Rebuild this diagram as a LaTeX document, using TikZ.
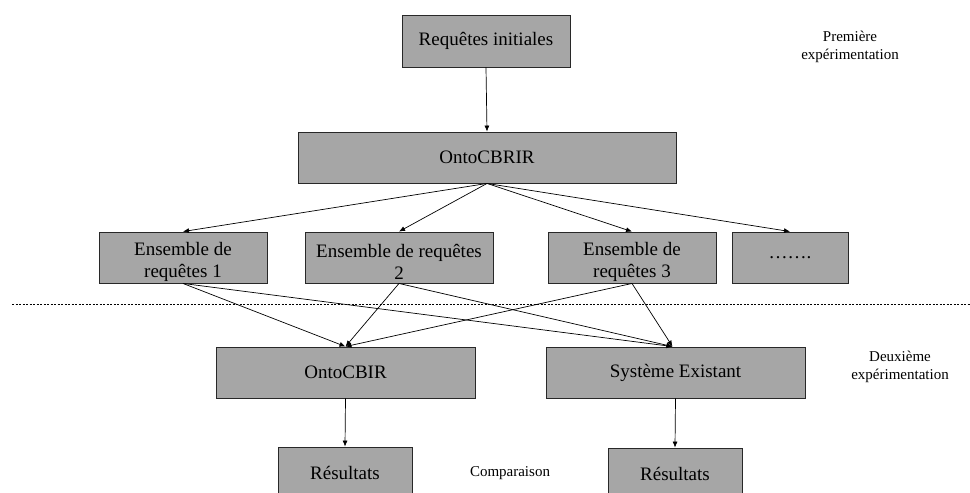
\documentclass[tikz,border=0pt]{standalone}
\usepackage{fontspec}
\setmainfont{Liberation Serif}
\usetikzlibrary{arrows.meta}
\definecolor{boxgray}{RGB}{166,166,166}
\definecolor{boxline}{RGB}{40,40,40}
% taller first line so two-line labels sit a little lower in their boxes
\newcommand{\lowstrut}{\rule{0pt}{22pt}}
\begin{document}
\begin{tikzpicture}[x=1pt,y=-1pt,
  stagebox/.style={draw=boxline,line width=0.9pt,fill=boxgray,inner sep=0pt,
    align=center,font=\fontsize{19}{22}\selectfont,minimum height=51pt},
  flow/.style={line width=0.7pt,-{Latex[length=6pt,width=5pt]}},
  note/.style={align=center,font=\fontsize{15}{18}\selectfont}]
\clip (0,0) rectangle (970,493);
\fill[white] (0,0) rectangle (970,493);

% first stage
\node[stagebox,minimum width=168pt,minimum height=52pt] (init) at (486,41) {Requêtes initiales};
\node[stagebox,minimum width=378pt] (onto1) at (487,157.5) {OntoCBRIR};
\node[stagebox,minimum width=168pt] (e1) at (183,257.5) {\lowstrut Ensemble de\\requêtes 1};
\node[stagebox,minimum width=188pt] (e2) at (399,257.5) {\lowstrut Ensemble de requêtes\\2};
\node[stagebox,minimum width=168pt] (e3) at (632,257.5) {\lowstrut Ensemble de\\requêtes 3};
\node[stagebox,minimum width=116pt] (e4) at (790,257.5) {…….};

% separator between the two experiments
\coordinate (sepL) at (12,304);
\coordinate (sepR) at (970,304);
\draw[line width=0.8pt,dash pattern=on 2pt off 1.5pt] (sepL) -- (sepR);

% second stage
\node[stagebox,minimum width=259pt] (onto2) at (345.5,372.5) {OntoCBIR};
\node[stagebox,minimum width=259pt] (sys) at (675.5,372.5) {Système Existant};
\node[stagebox,minimum width=134pt] (r1) at (345,472.5) {Résultats};
\node[stagebox,minimum width=134pt] (r2) at (675,473.5) {Résultats};

% labels
\node[note] (lab1) at (850,47) {Première\\expérimentation};
\node[note] (lab2) at (900,367) {Deuxième\\expérimentation};
\node[note] (lab3) at (510,473) {Comparaison};

% connectors
\draw[flow] (init.south) -- (onto1.north);
\foreach \t in {e1,e2,e3,e4} \draw[flow] (onto1.south) -- (\t.north);
\foreach \s in {e1,e2,e3} {
  \draw[flow] (\s.south) -- (onto2.north);
  \draw[flow] (\s.south) -- ([xshift=-3pt]sys.north);
}
\draw[flow] (onto2.south) -- (r1.north);
\draw[flow] (sys.south) -- (r2.north);
\end{tikzpicture}
\end{document}
